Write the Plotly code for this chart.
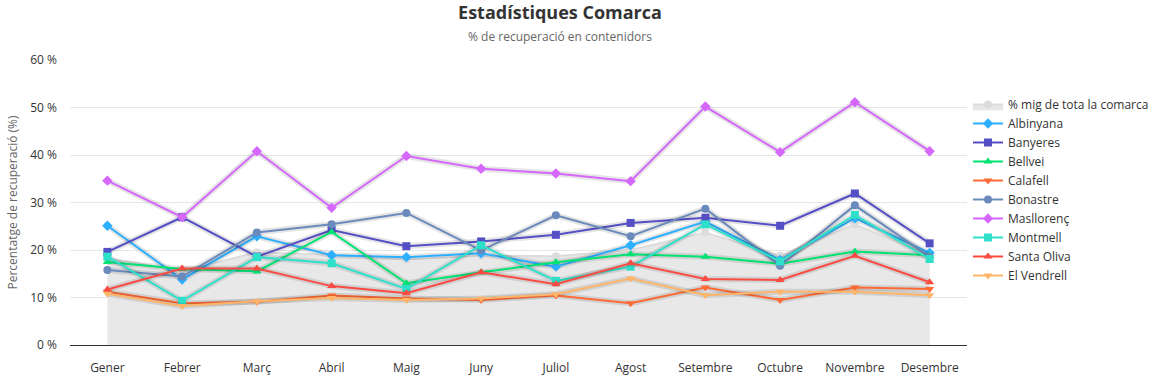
import plotly.graph_objects as go

months = ["Gener", "Febrer", "Març", "Abril", "Maig", "Juny", "Juliol",
          "Agost", "Setembre", "Octubre", "Novembre", "Desembre"]

mitjana = [18.3, 15.6, 19.5, 19.0, 18.0, 18.8, 18.7, 20.0, 23.7, 18.8, 25.4, 18.9]
albinyana = [25.1, 13.8, 22.9, 18.9, 18.5, 19.3, 16.5, 21.0, 26.0, 17.9, 26.7, 19.4]
banyeres = [19.6, 26.9, 18.6, 24.2, 20.8, 21.8, 23.2, 25.7, 26.8, 25.1, 31.9, 21.4]
bellvei = [17.5, 16.0, 15.5, 23.8, 13.0, 15.3, 17.4, 19.1, 18.6, 17.1, 19.7, 18.9]
calafell = [11.2, 8.8, 9.1, 10.4, 9.8, 9.5, 10.4, 8.8, 12.1, 9.5, 12.1, 11.8]
bonastre = [15.8, 14.4, 23.7, 25.4, 27.8, 19.9, 27.3, 22.9, 28.7, 16.7, 29.4, 18.6]
masllorenc = [34.6, 26.9, 40.8, 28.9, 39.8, 37.1, 36.1, 34.5, 50.2, 40.6, 51.1, 40.8]
montmell = [18.6, 9.3, 18.5, 17.2, 11.8, 21.0, 13.5, 16.5, 25.4, 17.6, 27.4, 18.1]
santa_oliva = [11.7, 16.1, 16.1, 12.4, 10.9, 15.3, 12.8, 17.2, 13.9, 13.7, 18.8, 13.2]
el_vendrell = [10.8, 8.2, 9.2, 9.9, 9.5, 9.8, 10.7, 14.0, 10.5, 11.2, 11.2, 10.5]

series = [
    ("Albinyana", albinyana, "#2caffe", "diamond"),
    ("Banyeres", banyeres, "#544fc5", "square"),
    ("Bellvei", bellvei, "#00e272", "triangle-up"),
    ("Calafell", calafell, "#fe6a35", "triangle-down"),
    ("Bonastre", bonastre, "#6b8abc", "circle"),
    ("Masllorenç", masllorenc, "#d568fb", "diamond"),
    ("Montmell", montmell, "#2ee0ca", "square"),
    ("Santa Oliva", santa_oliva, "#fa4b42", "triangle-up"),
    ("El Vendrell", el_vendrell, "#feb56a", "triangle-down"),
]

FONT = "Open Sans, Noto Sans, sans-serif"
L, R, T, B = 70, 193, 60, 35
PW, PH = 1160 - L - R, 380 - T - B

fig = go.Figure()

fig.add_trace(go.Scatter(
    x=months, y=mitjana, name="% mig de tota la comarca",
    mode="lines+markers", fill="tozeroy", fillcolor="#e8e8e8",
    line=dict(color="#dcdcdc", width=2),
    marker=dict(symbol="circle", size=8, color="#dcdcdc"),
))

for name, vals, color, sym in series:
    fig.add_trace(go.Scatter(
        x=months, y=vals, mode="lines", showlegend=False, hoverinfo="skip",
        line=dict(color="rgba(0,0,0,0.10)", width=6),
    ))
    fig.add_trace(go.Scatter(
        x=months, y=vals, name=name, mode="lines+markers",
        line=dict(color=color, width=2),
        marker=dict(symbol=sym, size=8, color=color),
    ))

fig.update_layout(
    width=1160, height=380,
    paper_bgcolor="white", plot_bgcolor="white",
    margin=dict(l=L, r=R, t=T, b=B, autoexpand=False),
    font=dict(family=FONT, size=12, color="#333333"),
    title=dict(text="<b>Estadístiques Comarca</b>", x=560/1160, xref="container",
               xanchor="center", y=1 - 13/380, yref="container", yanchor="middle",
               font=dict(family=FONT, size=18, color="#333333")),
    annotations=[dict(text="% de recuperació en contenidors", x=(560 - L) / PW,
                      xref="paper", y=(T + PH - 37) / PH,
                      yref="paper", xanchor="center", yanchor="middle",
                      showarrow=False, font=dict(family=FONT, size=12, color="#666666"))],
    legend=dict(x=(968 - L) / PW, xanchor="left", y=(T + PH - 90) / PH, yanchor="top",
                font=dict(family=FONT, size=12, color="#333333"),
                itemwidth=30, tracegroupgap=0, bgcolor="rgba(0,0,0,0)"),
    xaxis=dict(range=[-0.5, 11.5], showgrid=False, showline=True, automargin=False,
               linecolor="#333333", linewidth=1, ticks="", ticklabelstandoff=12,
               tickfont=dict(size=12, color="#333333"), fixedrange=True),
    yaxis=dict(range=[0, 60], dtick=10, ticksuffix=" %", showgrid=True, automargin=False,
               gridcolor="#e6e6e6", gridwidth=1, zeroline=False, showline=False,
               ticklabelstandoff=12,
               title=dict(text="Percentatge de recuperació (%)",
                          font=dict(size=12, color="#666666"), standoff=10),
               tickfont=dict(size=12, color="#333333")),
    showlegend=True,
)

fig.write_html("out.html", config={"displayModeBar": False},
               post_script="document.body.style.margin='0';")
